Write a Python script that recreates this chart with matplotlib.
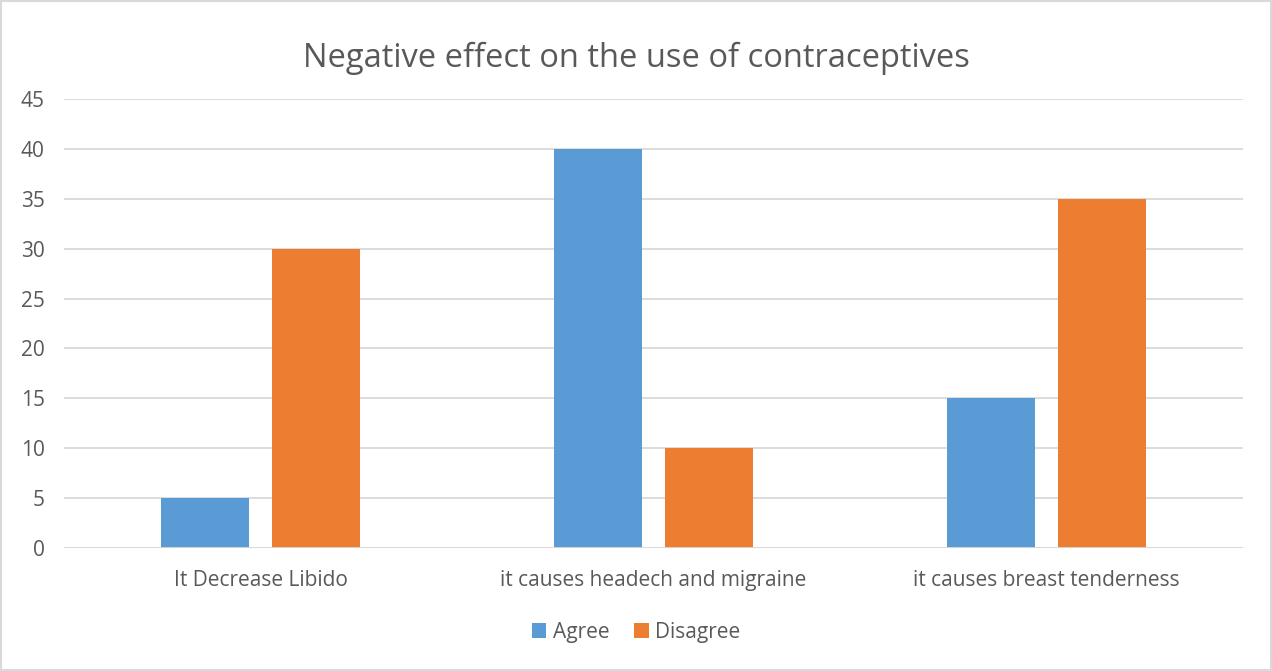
import matplotlib.pyplot as plt
import numpy as np

plt.rcParams['font.family'] = ['Open Sans', 'DejaVu Sans']

categories = ['It Decrease Libido', 'it causes headech and migraine', 'it causes breast tenderness']
agree = [5, 40, 15]
disagree = [30, 10, 35]
yticks = np.arange(0, 46, 5)

text_col = '#595959'
grid_col = '#D9D9D9'

fig = plt.figure(figsize=(12.72, 6.71), dpi=100)
ax = fig.add_axes([0.0505, 0.1833, 0.9265, 0.6692])

x = np.arange(len(categories))
w = 0.224
ax.bar(x - 0.142, agree, w, color='#5B9BD5', label='Agree', zorder=3)
ax.bar(x + 0.142, disagree, w, color='#ED7D31', label='Disagree', zorder=3)

ax.set_xlim(-0.5, 2.5)
ax.set_ylim(0, 45)
ax.set_yticks(yticks)
ax.set_xticks(x)
ax.set_xticklabels(categories)
ax.tick_params(axis='both', length=0, labelsize=15, colors=text_col)
ax.tick_params(axis='y', pad=14)
ax.tick_params(axis='x', pad=16)
ax.grid(axis='y', color=grid_col, linewidth=1.3, zorder=0)
for s in ax.spines.values():
    s.set_visible(False)
ax.axhline(0, color=grid_col, linewidth=1.3, zorder=4)

fig.text(0.5, 0.913, 'Negative effect on the use of contraceptives', ha='center', va='center',
         fontsize=23.5, color=text_col)

fig.legend(loc='center', bbox_to_anchor=(0.5, 0.058), ncol=2, frameon=False,
           fontsize=15, labelcolor=text_col, handlelength=0.7, handleheight=0.7,
           handletextpad=0.3, columnspacing=1.2)

fig.patches.append(plt.Rectangle((0.001, 0.001), 0.998, 0.998, transform=fig.transFigure,
                                 fill=False, edgecolor=grid_col, linewidth=1.5))

plt.savefig('out.png')
